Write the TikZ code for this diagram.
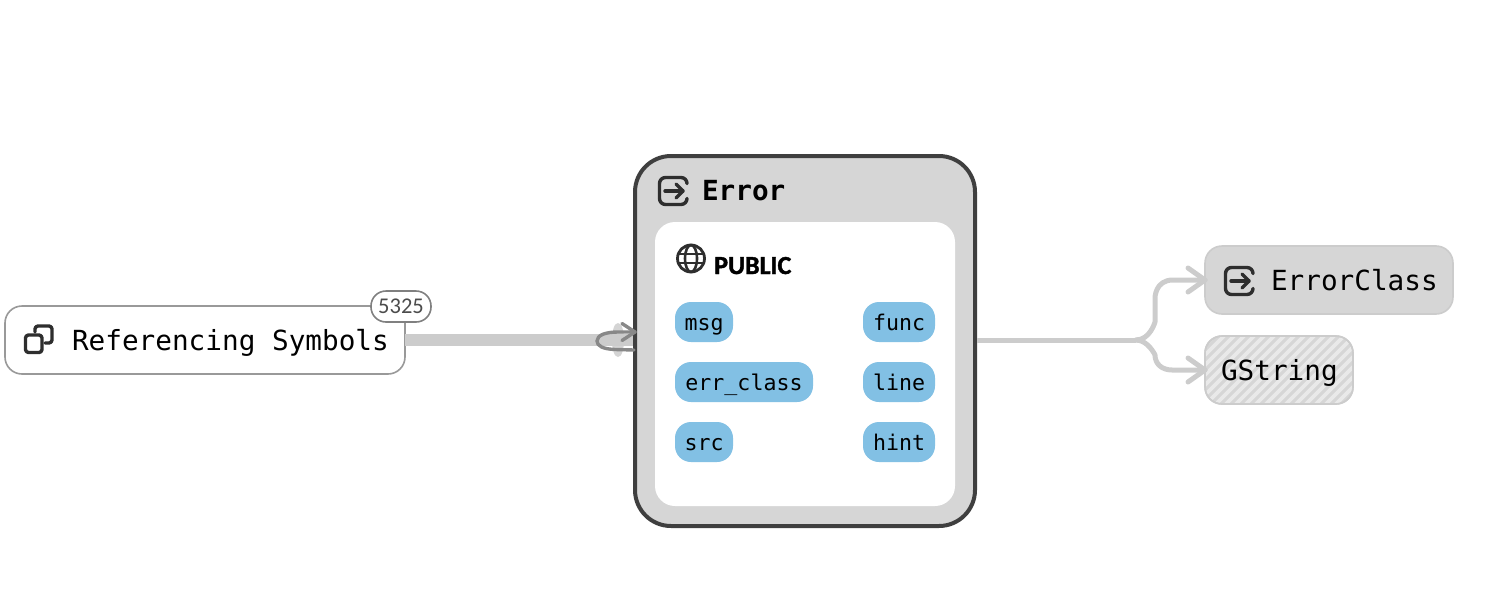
\documentclass[tikz,border=0pt]{standalone}
\usepackage{fontspec}
\setmonofont{DejaVu Sans Mono}
\newfontfamily\badgefont{Carlito}
\newfontfamily\pubfont{Carlito}[BoldFeatures={FakeBold=1.6}]
\usetikzlibrary{arrows.meta}
\definecolor{edgegrey}{HTML}{CCCCCC}
\definecolor{boxgrey}{HTML}{D6D6D6}
\definecolor{darkborder}{HTML}{3F3F3F}
\definecolor{pillblue}{HTML}{82C0E4}
\definecolor{loopgrey}{HTML}{888888}
\definecolor{icongrey}{HTML}{2E2E2E}
\definecolor{hatchlight}{HTML}{E9E9E9}
\tikzset{
  x=1pt,y=-1pt,
  boxbase/.style={rectangle,outer sep=0pt,inner sep=0pt},
  refbox/.style={boxbase,draw=black!40,line width=1.6pt,fill=white,rounded corners=17pt,minimum width=400pt,minimum height=68pt},
  badge/.style={boxbase,draw=black!50,line width=1.6pt,fill=white,rounded corners=15pt,minimum width=60pt,minimum height=31pt,font=\badgefont\fontsize{22.5}{22}\selectfont,text=black!70},
  mainbox/.style={boxbase,draw=darkborder,line width=4pt,fill=boxgrey,rounded corners=36pt,minimum width=340pt,minimum height=370pt},
  innerbox/.style={boxbase,fill=white,rounded corners=20pt,minimum width=300pt,minimum height=284pt},
  pill/.style={boxbase,fill=pillblue,rounded corners=16pt,minimum height=40pt,text height=18pt,text depth=2pt,font=\ttfamily\fontsize{21.6}{22}\selectfont},
  sidebox/.style={boxbase,draw=edgegrey,line width=1.6pt,fill=boxgrey,rounded corners=17pt,minimum height=68pt},
  boxlabel/.style={inner sep=0pt,outer sep=0pt,anchor=base west,font=\ttfamily\fontsize{27.7}{28}\selectfont},
  chev/.style={line width=5pt,draw=edgegrey,line cap=round,line join=round},
  iconline/.style={draw=icongrey,line width=3.4pt,line cap=round,line join=round},
  hatchline/.style={draw=hatchlight,line width=3.6pt},
}
\begin{document}
\begin{tikzpicture}
\useasboundingbox (0,0) rectangle (1500,600);

% boxes
\node[refbox] (ref) at (205,340) {};

% thick edge (behind the main box border)
\fill[edgegrey!85!white] (618,323) .. controls (626,323) and (626,357) .. (618,357) .. controls (610,357) and (610,323) .. (618,323);
\fill[edgegrey] (ref.east |- 0,334) rectangle (635,346);

% branching edge coordinates
\coordinate (ja) at (1136,340);
\coordinate (jb) at (1155,322);
\coordinate (jc) at (1155,298);
\coordinate (jd) at (1173,280);
\coordinate (je) at (1155,355);
\coordinate (jf) at (1172,370);

\node[mainbox] (err) at (805,341) {};
\node[innerbox] (inner) at (805,364) {};

\node[badge] (cnt) at (401,306.5) {5325};

% labels
\node[boxlabel] (reflab) at (72,350) {Referencing Symbols};
\node[boxlabel,font=\ttfamily\bfseries\fontsize{27.7}{28}\selectfont] (errlab) at (702,200) {Error};
\node[inner sep=0pt,anchor=base west,font=\pubfont\bfseries\fontsize{26}{26}\selectfont] (publab) at (714,274) {PUBLIC};

% pills
\node[pill,minimum width=58pt] (msg) at (704,322) {msg};
\node[pill,minimum width=138pt] (errclass) at (744,382) {err\_class};
\node[pill,minimum width=58pt] (src) at (704,442) {src};
\node[pill,minimum width=72pt] (func) at (899,322) {func};
\node[pill,minimum width=72pt] (line) at (899,382) {line};
\node[pill,minimum width=72pt] (hint) at (899,442) {hint};

% right boxes
\node[sidebox,minimum width=248pt] (ec) at (1329,280) {};
\node[sidebox,minimum width=148pt] (gs) at (1279,370) {};
\begin{scope}
  \clip[rounded corners=16pt] (1206,337) rectangle (1352,403);
  \foreach \k in {-6,...,40}{
    \draw[hatchline] (1190+\k*10,410) -- ++(80,-80);
  }
\end{scope}
\node[boxbase,draw=edgegrey,line width=1.6pt,rounded corners=17pt,minimum width=148pt,minimum height=68pt] (gsb) at (gs.center) {};
\node[boxlabel] (eclab) at (1271,290) {ErrorClass};
\node[boxlabel] (gslab) at (1221,380) {GString};

\draw[chev,line cap=butt] ([xshift=2pt]err.east |- ja) -- (ja);
\draw[chev] (ja) .. controls (1150,340) and (jb) .. (jb) -- (jc) .. controls (jc) and (1155,280) .. (jd) -- (ec.west);
\draw[chev] (ja) .. controls (1148,340) and (je) .. (je) .. controls (1155,364) and (1162,370) .. (jf) -- (gs.west);
\draw[chev] (1188,268) -- (ec.west) -- (1188,292);
\draw[chev] (1188,358) -- (gs.west) -- (1188,382);

% self loop
\coordinate (loopout) at (634,350);
\coordinate (loopin) at (635,332);
\draw[draw=loopgrey,line width=3.4pt,line cap=round,line join=round]
  (loopout) -- (615,349.5) .. controls (603,349) and (597,346) .. (597,341) .. controls (597,335) and (606,332) .. (618,332) -- (loopin);
\draw[draw=loopgrey,line width=3.4pt,line cap=round,line join=round] (622,323.5) -- (loopin) -- (622,340.5);

% icon: referencing symbols
\draw[iconline,rounded corners=3pt] (25.5,335) rectangle (42,352.5);
\draw[iconline,rounded corners=3pt] (35,332) -- (35,326) -- (52,326) -- (52,343) -- (45,343);

% icon: Error
\draw[iconline,rounded corners=6pt] (687,183) -- (687,177.5) -- (659.5,177.5) -- (659.5,204.5) -- (687,204.5) -- (687,199);
\draw[iconline] (665,191) -- (683,191);
\draw[iconline] (676,184) -- (683,191) -- (676,198);

% icon: ErrorClass
\draw[iconline,rounded corners=6pt] (1253,273) -- (1253,267.5) -- (1225.5,267.5) -- (1225.5,294.5) -- (1253,294.5) -- (1253,289);
\draw[iconline] (1231,281) -- (1249,281);
\draw[iconline] (1242,274) -- (1249,281) -- (1242,288);

% icon: globe
\draw[iconline,line width=2.8pt] (691,258.5) circle [radius=13.5];
\draw[iconline,line width=2.6pt] (691,258.5) ellipse [x radius=6,y radius=13.5];
\draw[iconline,line width=2.6pt] (678,254) -- (704,254);
\draw[iconline,line width=2.6pt] (678,263) -- (704,263);
\end{tikzpicture}
\end{document}
